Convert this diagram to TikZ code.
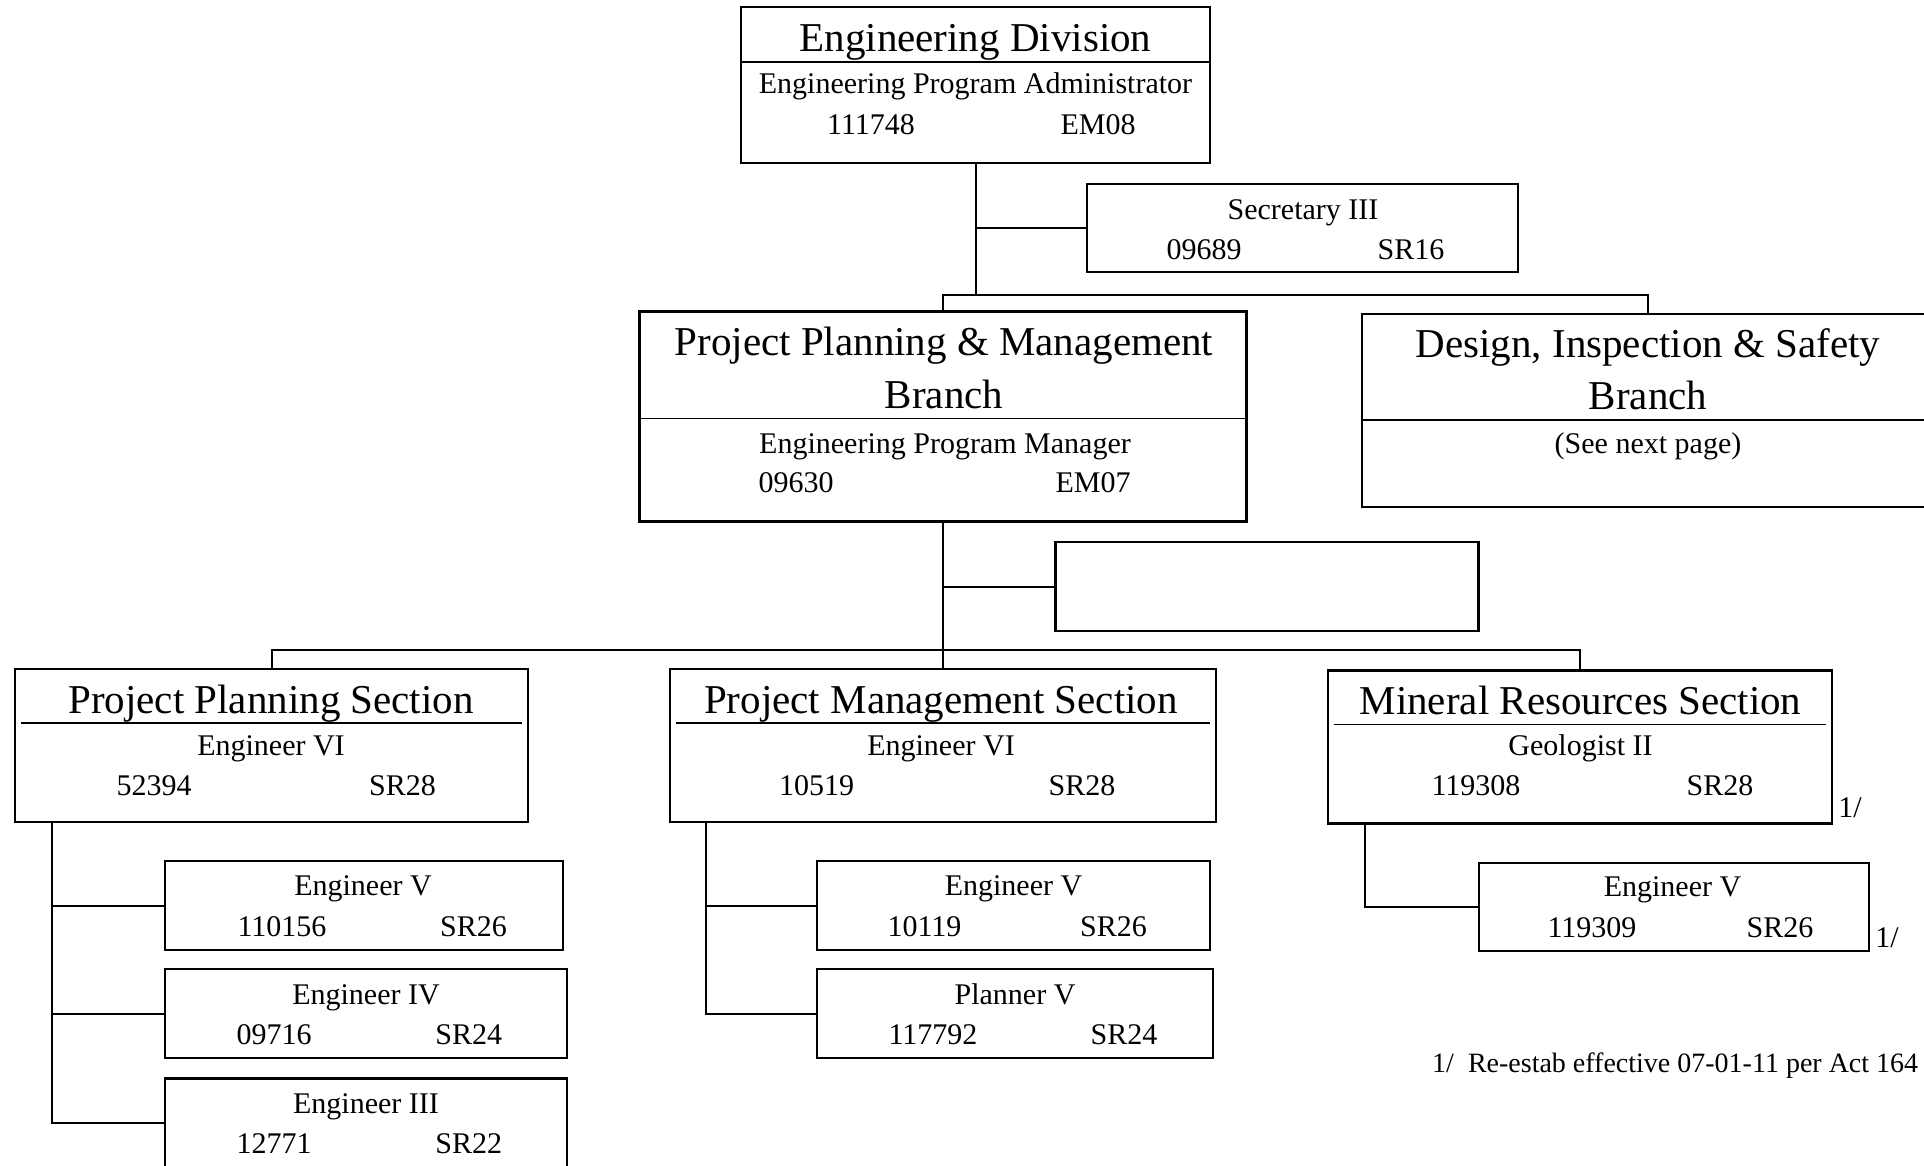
\documentclass[tikz,border=0pt]{standalone}
\usepackage{fontspec}
\setmainfont{Liberation Serif}
\usetikzlibrary{positioning, calc}

\tikzset{
  post/.style={draw, rectangle, line width=2.4pt, inner sep=0pt},
  link/.style={line width=2pt},
  rule/.style={line width=1.6pt},
  head/.style={font=\fontsize{41}{49}\selectfont, inner sep=0pt, anchor=base, yshift=-13.5pt},
  txt/.style={font=\fontsize{30}{36}\selectfont, inner sep=0pt, anchor=base, yshift=-10pt},
}

\begin{document}
\begin{tikzpicture}[x=1pt, y=-1pt]

\fill[white] (0,0) rectangle (1924,1165);
\useasboundingbox (0,0) rectangle (1924,1165);

% Division
\node[post, minimum width=469pt, minimum height=156pt] (ed) at (975.5,85) {};
\draw[rule] ([yshift=-56pt]ed.north west) -- ([yshift=-56pt]ed.north east);
\node[head] (edT) at (975.5,38) {Engineering Division};
\node[txt] (edR) at (975.5,83) {Engineering Program Administrator};
\node[txt] (edN) at (871,124) {111748};
\node[txt] (edG) at (1098,124) {EM08};

% Secretary
\node[post, minimum width=431pt, minimum height=88pt] (sec) at (1302.5,228) {};
\node[txt] (secR) at (1303,209) {Secretary III};
\node[txt] (secN) at (1204,249) {09689};
\node[txt] (secG) at (1411,249) {SR16};

% Branches
\node[post, minimum width=607pt, minimum height=210pt] (ppm) at (943,416.5) {};
\draw[rule] ([yshift=-108pt]ppm.north west) -- ([yshift=-108pt]ppm.north east);
\node[head] (ppmT) at (944,342) {Project Planning \& Management};
\node[head] (ppmU) at (944,395) {Branch};
\node[txt] (ppmR) at (945,443) {Engineering Program Manager};
\node[txt] (ppmN) at (796,482) {09630};
\node[txt] (ppmG) at (1093,482) {EM07};

\node[post, minimum width=572pt, minimum height=193pt] (dis) at (1648,410.5) {};
\draw[rule] ([yshift=-107pt]dis.north west) -- ([yshift=-107pt]dis.north east);
\node[head] (disT) at (1648,343.5) {Design, Inspection \& Safety};
\node[head] (disU) at (1648,396) {Branch};
\node[txt] (disR) at (1648,443) {(See next page)};

% Vacant box
\node[post, minimum width=423pt, minimum height=89pt] (vac) at (1267,586.5) {};

% Sections
\node[post, minimum width=513pt, minimum height=153pt] (pps) at (271.5,745.5) {};
\node[head] (ppsT) at (271,699.5) {Project Planning Section};
\node[txt] (ppsR) at (271,745) {Engineer VI};
\node[txt] (ppsN) at (154,785) {52394};
\node[txt] (ppsG) at (402.5,785) {SR28};

\node[post, minimum width=546pt, minimum height=153pt] (pms) at (943,745.5) {};
\node[head] (pmsT) at (941,699.5) {Project Management Section};
\node[txt] (pmsR) at (941,745) {Engineer VI};
\node[txt] (pmsN) at (816.5,785) {10519};
\node[txt] (pmsG) at (1082,785) {SR28};

\node[post, minimum width=504pt, minimum height=153pt] (mrs) at (1580,747) {};
\node[head] (mrsT) at (1580.5,700.5) {Mineral Resources Section};
\node[txt] (mrsR) at (1580.5,745) {Geologist II};
\node[txt] (mrsN) at (1476,785) {119308};
\node[txt] (mrsG) at (1720,785) {SR28};
\node[txt] (mrsF) at (1850,807) {1/};

\foreach \s in {pps,pms,mrs}
  \draw[rule] ([xshift=7pt,yshift=-55pt]\s.north west) -- ([xshift=-7pt,yshift=-55pt]\s.north east);

% Positions
\node[post, minimum width=397.5pt, minimum height=89pt] (ppsA) at (364,905.5) {};
\node[txt] (ppsAR) at (363,885) {Engineer V};
\node[txt] (ppsAN) at (282,926) {110156};
\node[txt] (ppsAG) at (473.5,926) {SR26};

\node[post, minimum width=401.5pt, minimum height=89pt] (ppsB) at (366,1013.5) {};
\node[txt] (ppsBR) at (366,994) {Engineer IV};
\node[txt] (ppsBN) at (274,1034.5) {09716};
\node[txt] (ppsBG) at (468.7,1034.5) {SR24};

\node[post, minimum width=401.5pt, minimum height=89pt] (ppsC) at (366,1123) {};
\node[txt] (ppsCR) at (366,1103) {Engineer III};
\node[txt] (ppsCN) at (274,1143.5) {12771};
\node[txt] (ppsCG) at (468.7,1143.5) {SR22};

\node[post, minimum width=393pt, minimum height=89pt] (pmsA) at (1013.5,905.5) {};
\node[txt] (pmsAR) at (1013.5,885) {Engineer V};
\node[txt] (pmsAN) at (924.5,926) {10119};
\node[txt] (pmsAG) at (1113.5,926) {SR26};

\node[post, minimum width=396.5pt, minimum height=89pt] (pmsB) at (1015,1013.5) {};
\node[txt] (pmsBR) at (1015,994) {Planner V};
\node[txt] (pmsBN) at (933,1034.5) {117792};
\node[txt] (pmsBG) at (1124,1034.5) {SR24};

\node[post, minimum width=390.5pt, minimum height=88.5pt] (mrsA) at (1674,907) {};
\node[txt] (mrsAR) at (1672.5,886) {Engineer V};
\node[txt] (mrsAN) at (1592,927.5) {119309};
\node[txt] (mrsAG) at (1780,927.5) {SR26};
\node[txt] (mrsAF) at (1887,937.5) {1/};

% Footnote
\node[txt, anchor=base west, font=\fontsize{28}{34}\selectfont] (fn) at (1432,1062.5) {1/\ \ Re-estab effective 07-01-11 per Act 164};

% Connectors
\coordinate (bus1) at (975.5,294.5);
\coordinate (bus2) at (943,650);
\draw[link] (ed.south) -- (bus1);
\draw[link] (ed.south |- sec.west) -- (sec.west);
\draw[link] (ppm.north) |- (bus1) -| (dis.north);
\draw[link] (ppm.south) -- (pms.north);
\draw[link] (ppm.south |- vac.west) -- (vac.west);
\draw[link] (pps.north) |- (bus2) -| (mrs.north);
\foreach \c in {ppsA,ppsB,ppsC}
  \draw[link] ([xshift=38pt]pps.south west) |- (\c.west);
\foreach \c in {pmsA,pmsB}
  \draw[link] ([xshift=37pt]pms.south west) |- (\c.west);
\draw[link] ([xshift=38pt]mrs.south west) |- (mrsA.west);

\end{tikzpicture}
\end{document}
